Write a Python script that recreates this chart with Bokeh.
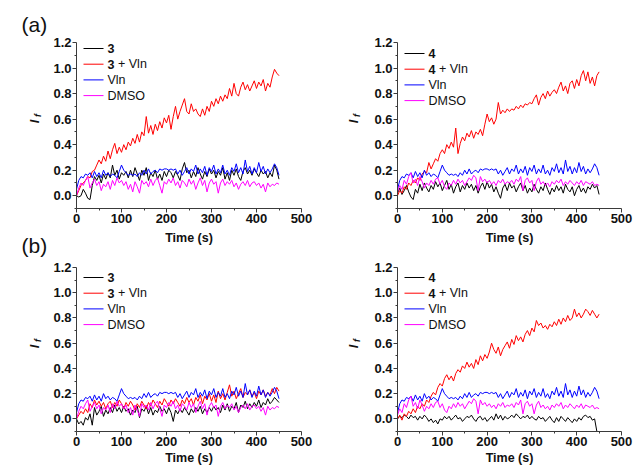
import numpy as np
from bokeh.plotting import figure
from bokeh.layouts import column, row
from bokeh.models import FixedTicker, Range1d, PrintfTickFormatter
from bokeh.core.properties import value
from bokeh.embed import file_html
from bokeh.resources import INLINE

time_s = list(range(0, 451, 5))

# panel (a), compound 3
a3_alone = [0.00, -0.01, 0.00, 0.05, 0.02, -0.02, -0.03, 0.08, 0.15, 0.12, 0.16, 0.10, 0.17, 0.13, 0.18, 0.14,
            0.24, 0.16, 0.20, 0.13, 0.18, 0.16, 0.19, 0.14, 0.20, 0.15, 0.22, 0.17, 0.12, 0.20, 0.16, 0.22,
            0.12, 0.18, 0.15, 0.20, 0.13, 0.17, 0.12, 0.19, 0.15, 0.20, 0.18, 0.14, 0.19, 0.16, 0.12, 0.21,
            0.26, 0.18, 0.20, 0.14, 0.19, 0.15, 0.22, 0.17, 0.13, 0.19, 0.15, 0.21, 0.17, 0.20, 0.14, 0.19,
            0.16, 0.22, 0.13, 0.18, 0.12, 0.20, 0.16, 0.21, 0.15, 0.12, 0.19, 0.22, 0.17, 0.20, 0.16, 0.21,
            0.18, 0.15, 0.20, 0.17, 0.19, 0.14, 0.18, 0.15, 0.24, 0.20, 0.13]
a3_vln = [0.00, 0.04, 0.08, 0.10, 0.12, 0.15, 0.14, 0.19, 0.20, 0.24, 0.28, 0.25, 0.31, 0.27, 0.35, 0.29,
          0.36, 0.41, 0.33, 0.38, 0.34, 0.40, 0.36, 0.42, 0.39, 0.45, 0.41, 0.48, 0.42, 0.50, 0.47, 0.62,
          0.49, 0.55, 0.48, 0.56, 0.51, 0.58, 0.53, 0.61, 0.57, 0.63, 0.52, 0.62, 0.70, 0.60, 0.66, 0.71,
          0.76, 0.66, 0.64, 0.72, 0.66, 0.68, 0.64, 0.62, 0.68, 0.63, 0.70, 0.66, 0.74, 0.70, 0.76, 0.72,
          0.78, 0.74, 0.79, 0.76, 0.84, 0.78, 0.88, 0.80, 0.78, 0.85, 0.89, 0.83, 0.87, 0.82, 0.86, 0.90,
          0.84, 0.89, 0.86, 0.91, 0.82, 0.88, 0.85, 0.93, 0.99, 0.96, 0.94]
# panel (a), compound 4
a4_alone = [0.02, 0.06, 0.01, 0.04, 0.08, 0.03, -0.01, -0.03, 0.05, 0.02, 0.09, 0.04, 0.10, 0.06, 0.03, 0.08,
            0.05, 0.11, 0.07, 0.10, 0.04, 0.08, 0.12, 0.05, 0.09, 0.02, 0.07, 0.10, 0.03, 0.08, 0.05, 0.10,
            0.06, 0.09, 0.04, 0.08, 0.02, 0.07, 0.10, 0.05, 0.11, 0.06, 0.09, 0.03, 0.07, 0.02, -0.02, 0.06,
            0.09, 0.04, 0.10, 0.06, 0.08, 0.03, 0.07, 0.10, 0.04, 0.08, 0.02, 0.06, 0.03, 0.09, 0.05, 0.02,
            0.07, 0.04, 0.10, 0.05, 0.01, 0.06, 0.03, 0.08, 0.04, 0.07, 0.02, 0.09, 0.05, 0.03, 0.07, 0.00,
            0.05, 0.08, 0.03, 0.06, 0.02, 0.07, 0.05, 0.09, 0.06, 0.08, 0.01]
a4_vln = [0.00, 0.04, 0.02, 0.07, 0.05, 0.10, 0.08, 0.12, 0.10, 0.14, 0.12, 0.17, 0.19, 0.18, 0.26, 0.21,
          0.25, 0.29, 0.27, 0.33, 0.36, 0.33, 0.40, 0.37, 0.42, 0.38, 0.53, 0.33, 0.41, 0.46, 0.43, 0.49,
          0.46, 0.51, 0.45, 0.50, 0.48, 0.52, 0.47, 0.56, 0.64, 0.58, 0.61, 0.56, 0.60, 0.73, 0.64, 0.67,
          0.65, 0.68, 0.66, 0.68, 0.67, 0.70, 0.68, 0.71, 0.69, 0.72, 0.71, 0.73, 0.72, 0.76, 0.79, 0.71,
          0.77, 0.80, 0.76, 0.82, 0.78, 0.81, 0.83, 0.80, 0.85, 0.89, 0.82, 0.86, 0.80, 0.88, 0.90, 0.84,
          0.91, 0.86, 0.94, 0.98, 0.90, 0.97, 0.88, 0.93, 0.86, 0.94, 0.97]
# panel (b), compound 3
b3_alone = [0.00, -0.04, -0.02, -0.05, 0.01, -0.01, 0.04, -0.05, 0.09, 0.03, 0.06, 0.10, 0.02, 0.07, 0.04, 0.09,
            0.05, 0.11, 0.06, 0.09, 0.05, 0.10, 0.06, 0.08, 0.03, 0.07, 0.05, 0.10, 0.01, 0.08, 0.06, 0.10,
            0.04, 0.09, 0.03, 0.07, 0.05, 0.10, 0.06, 0.08, 0.04, 0.09, 0.05, -0.02, 0.07, 0.04, 0.08, 0.05,
            0.09, 0.06, 0.03, 0.08, 0.05, 0.09, 0.06, 0.10, 0.04, 0.08, 0.05, 0.09, 0.06, 0.10, 0.07, 0.09,
            0.05, 0.11, 0.07, 0.12, 0.06, 0.10, 0.08, 0.13, 0.05, 0.11, 0.09, 0.14, 0.08, 0.12, 0.09, 0.13,
            0.10, 0.15, 0.09, 0.13, 0.11, 0.16, 0.12, 0.14, 0.17, 0.15, 0.13]
b3_vln = [0.00, 0.03, 0.06, 0.04, 0.08, 0.05, 0.12, 0.09, 0.15, 0.11, 0.14, 0.10, 0.13, 0.08, 0.12, 0.14,
          0.09, 0.13, 0.10, 0.15, 0.12, 0.08, 0.13, 0.10, 0.14, 0.11, 0.07, 0.12, 0.09, 0.14, 0.11, 0.08,
          0.13, 0.10, 0.15, 0.12, 0.09, 0.14, 0.11, 0.16, 0.13, 0.10, 0.15, 0.12, 0.16, 0.13, 0.10, 0.15,
          0.12, 0.17, 0.13, 0.16, 0.11, 0.17, 0.14, 0.19, 0.12, 0.18, 0.15, 0.20, 0.14, 0.19, 0.13, 0.22,
          0.16, 0.20, 0.15, 0.21, 0.27, 0.18, 0.22, 0.16, 0.20, 0.24, 0.17, 0.21, 0.19, 0.23, 0.18, 0.21,
          0.16, 0.22, 0.19, 0.23, 0.18, 0.21, 0.19, 0.24, 0.20, 0.25, 0.22]
# panel (b), compound 4 (trace ends with a drop at ~445 s)
b4_alone = [0.00, 0.02, 0.01, 0.03, 0.02, 0.00, 0.03, 0.01, 0.02, -0.01, 0.02, 0.00, 0.03, 0.01, -0.02, 0.00,
            -0.03, -0.01, -0.04, 0.00, -0.01, 0.02, 0.00, 0.02, -0.01, 0.01, 0.03, 0.00, 0.01, -0.02, 0.00, 0.02,
            0.01, 0.03, 0.00, -0.02, 0.01, 0.02, -0.01, 0.01, -0.02, 0.00, 0.02, -0.01, 0.04, 0.00, 0.03, -0.01,
            0.02, 0.00, 0.01, 0.03, 0.01, 0.04, 0.02, 0.00, 0.02, 0.01, 0.03, 0.00, 0.02, 0.00, -0.01, 0.02,
            0.00, 0.01, -0.02, 0.00, 0.02, -0.01, -0.03, 0.01, -0.02, 0.02, 0.00, -0.02, 0.01, -0.01, -0.03, 0.00,
            -0.02, 0.01, -0.01, 0.02, 0.03, 0.01, 0.02, -0.01, 0.00, -0.10, np.nan]
b4_vln = [0.00, 0.03, -0.01, 0.04, 0.02, 0.06, 0.04, 0.08, 0.05, 0.10, 0.08, 0.12, 0.10, 0.15, 0.13, 0.18,
          0.21, 0.19, 0.25, 0.28, 0.26, 0.32, 0.35, 0.31, 0.34, 0.30, 0.36, 0.39, 0.37, 0.42, 0.40, 0.45,
          0.41, 0.44, 0.40, 0.47, 0.43, 0.50, 0.46, 0.51, 0.48, 0.53, 0.60, 0.55, 0.52, 0.57, 0.50, 0.55,
          0.58, 0.61, 0.56, 0.63, 0.59, 0.66, 0.62, 0.65, 0.61, 0.67, 0.70, 0.66, 0.72, 0.69, 0.78, 0.74,
          0.76, 0.72, 0.74, 0.71, 0.75, 0.73, 0.77, 0.74, 0.79, 0.75, 0.80, 0.77, 0.82, 0.78, 0.80, 0.87,
          0.81, 0.84, 0.80, 0.83, 0.87, 0.85, 0.82, 0.86, 0.83, 0.80, 0.83]
# controls
vln_only = [0.05, 0.12, 0.15, 0.14, 0.17, 0.16, 0.18, 0.14, 0.19, 0.15, 0.18, 0.14, 0.20, 0.16, 0.18, 0.15,
            0.17, 0.16, 0.14, 0.19, 0.24, 0.20, 0.18, 0.16, 0.17, 0.16, 0.17, 0.15, 0.18, 0.16, 0.20, 0.17,
            0.21, 0.17, 0.19, 0.20, 0.18, 0.21, 0.20, 0.21, 0.21, 0.20, 0.21, 0.20, 0.21, 0.17, 0.20, 0.16,
            0.19, 0.22, 0.17, 0.21, 0.19, 0.24, 0.17, 0.21, 0.18, 0.23, 0.16, 0.22, 0.19, 0.24, 0.17, 0.21,
            0.18, 0.24, 0.17, 0.20, 0.16, 0.22, 0.19, 0.25, 0.18, 0.22, 0.17, 0.28, 0.19, 0.23, 0.17, 0.22,
            0.18, 0.26, 0.19, 0.23, 0.17, 0.21, 0.18, 0.21, 0.25, 0.22, 0.16]
dmso_3 = [0.00, 0.06, 0.10, 0.08, 0.12, 0.15, 0.06, 0.10, 0.13, 0.08, 0.11, 0.04, 0.09, 0.07, 0.11, 0.05,
          0.12, 0.08, 0.14, 0.10, 0.12, 0.08, 0.11, 0.05, 0.09, 0.03, 0.11, 0.07, 0.02, 0.12, 0.09, 0.11,
          0.07, 0.13, 0.08, 0.12, 0.14, 0.08, 0.02, 0.11, 0.09, 0.13, 0.10, 0.14, 0.08, 0.11, 0.06, 0.12,
          0.10, 0.07, 0.13, 0.09, 0.12, 0.05, 0.10, 0.14, 0.08, 0.12, 0.03, 0.10, 0.13, 0.09, 0.11, 0.02,
          0.10, 0.13, 0.08, 0.11, 0.09, 0.12, 0.07, 0.10, 0.05, 0.09, 0.11, 0.08, 0.12, 0.07, 0.10, 0.11,
          0.08, 0.10, 0.06, 0.09, 0.03, 0.10, 0.07, 0.09, 0.08, 0.10, 0.09]
dmso_4 = [0.03, 0.08, 0.05, 0.12, 0.09, 0.15, 0.18, 0.10, 0.13, 0.08, 0.15, 0.11, 0.06, 0.10, 0.08, 0.12,
          0.09, 0.13, 0.14, 0.09, 0.12, 0.07, 0.05, 0.10, 0.08, 0.12, 0.09, 0.13, 0.10, 0.12, 0.08, 0.11,
          0.14, 0.12, 0.16, 0.14, 0.04, 0.15, 0.11, 0.13, 0.10, 0.12, 0.09, 0.11, 0.08, 0.12, 0.10, 0.13,
          0.09, 0.11, 0.10, 0.12, 0.09, 0.13, 0.11, 0.15, 0.04, 0.12, 0.14, 0.10, 0.12, 0.04, 0.11, 0.14,
          0.09, 0.11, 0.08, 0.10, 0.07, 0.11, 0.09, 0.12, 0.10, 0.13, 0.08, 0.11, 0.09, 0.12, 0.10, 0.08,
          0.11, 0.09, 0.12, 0.08, 0.11, 0.10, 0.09, 0.11, 0.08, 0.09, 0.08]

y_ticks = [0.0, 0.2, 0.4, 0.6, 0.8, 1.0, 1.2]
y_minor = [-0.1, 0.1, 0.3, 0.5, 0.7, 0.9, 1.1]
x_ticks = [0, 100, 200, 300, 400, 500]
x_minor = [50, 150, 250, 350, 450]

FONT = "Liberation Sans"
AX = "#3a3a3a"
TXT = "#111111"
COLORS = ["#000000", "#ff0000", "#0000ff", "#ff00ff"]


def panel(width, height, bl, br, bt, bb, label_gap, compound, series, legend_top):
    p = figure(width=width, height=height, x_range=Range1d(0, 500), y_range=Range1d(-0.1, 1.2),
               output_backend="svg", toolbar_location=None,
               min_border_left=bl, min_border_right=br, min_border_top=bt, min_border_bottom=bb)
    p.xgrid.visible = False
    p.ygrid.visible = False
    p.outline_line_color = None
    for ax in (p.xaxis[0], p.yaxis[0]):
        ax.axis_line_color = AX
        ax.major_tick_line_color = AX
        ax.minor_tick_line_color = AX
        ax.major_tick_in = 0
        ax.major_tick_out = 4
        ax.minor_tick_in = 0
        ax.minor_tick_out = 2
        ax.major_label_text_font = FONT
        ax.major_label_text_font_style = "bold"
        ax.major_label_text_font_size = "13px"
        ax.major_label_text_color = TXT
        ax.major_label_standoff = 1
    p.xaxis[0].ticker = FixedTicker(ticks=x_ticks, minor_ticks=x_minor)
    p.yaxis[0].ticker = FixedTicker(ticks=y_ticks, minor_ticks=y_minor)
    p.yaxis[0].formatter = PrintfTickFormatter(format="%.1f")
    p.xaxis[0].axis_label = "Time (s)"
    p.xaxis[0].axis_label_text_font = FONT
    p.xaxis[0].axis_label_text_font_style = "bold"
    p.xaxis[0].axis_label_text_font_size = "12.5px"
    p.xaxis[0].axis_label_text_color = TXT
    p.xaxis[0].axis_label_standoff = label_gap

    for vals, col in zip(series, COLORS):
        p.line(time_s, vals, line_color=col, line_width=1)

    # legend drawn in pixel coordinates of the frame (y measured from the frame top)
    fw = width - bl - br
    fh = height - bt - bb
    p.extra_x_ranges = {"px": Range1d(0, fw)}
    p.extra_y_ranges = {"px": Range1d(fh, 0)}
    rows = [legend_top + i * 15.7 for i in range(4)]
    p.segment(x0=[7] * 4, x1=[27] * 4, y0=rows, y1=rows, line_color=COLORS, line_width=1,
              x_range_name="px", y_range_name="px")
    p.text(x=[31, 31], y=rows[:2], text=[compound, compound], text_font=value(FONT),
           text_font_style="bold", text_font_size="12.5px", text_color=TXT,
           text_baseline="middle", text_align="left", x_range_name="px", y_range_name="px")
    p.text(x=[41.5, 31, 31], y=rows[1:], text=["+ Vln", "Vln", "DMSO"], text_font=value(FONT),
           text_font_size="12.5px", text_color=TXT,
           text_baseline="middle", text_align="left", x_range_name="px", y_range_name="px")
    return p


def strip(width, height, tags, ylab):
    s = figure(width=width, height=height, x_range=Range1d(0, width), y_range=Range1d(height, 0),
               x_axis_type=None, y_axis_type=None, output_backend="svg", toolbar_location=None,
               min_border=0)
    s.outline_line_color = None
    if tags:
        s.text(x=[t[1] for t in tags], y=[t[2] for t in tags], text=[t[0] for t in tags],
               text_font=value(FONT), text_font_size="21px", text_color=TXT,
               text_baseline="middle", text_align="left")
    s.text(x=[ylab[0]] * 2, y=ylab[1], text=["I", "I"], angle=np.pi / 2, text_font=value(FONT),
           text_font_style="bold italic", text_font_size="13px", text_color=TXT,
           text_baseline="middle", text_align="center")
    s.text(x=[ylab[0] + 4] * 2, y=[v - 6 for v in ylab[1]], text=["f", "f"], angle=np.pi / 2,
           text_font=value(FONT), text_font_style="bold italic", text_font_size="9px",
           text_color=TXT, text_baseline="middle", text_align="center")
    return s


s_left = strip(50, 469, [("(a)", 21, 24), ("(b)", 21, 245)], (33.5, [121, 346]))
s_right = strip(35, 469, [], (22.5, [121, 346]))

p1 = panel(280, 250, 26, 29, 42, 42, 5, "3", [a3_alone, a3_vln, vln_only, dmso_3], 6)
p2 = panel(269, 250, 32, 13, 42, 42, 5, "4", [a4_alone, a4_vln, vln_only, dmso_4], 11)
p3 = panel(280, 219, 26, 29, 17, 38, 2, "3", [b3_alone, b3_vln, vln_only, dmso_3], 10)
p4 = panel(269, 219, 32, 13, 17, 38, 2, "4", [b4_alone, b4_vln, vln_only, dmso_4], 10)

layout = row(s_left, column(p1, p3, spacing=0), s_right, column(p2, p4, spacing=0), spacing=0)
open("out.html", "w").write(file_html(layout, INLINE))
